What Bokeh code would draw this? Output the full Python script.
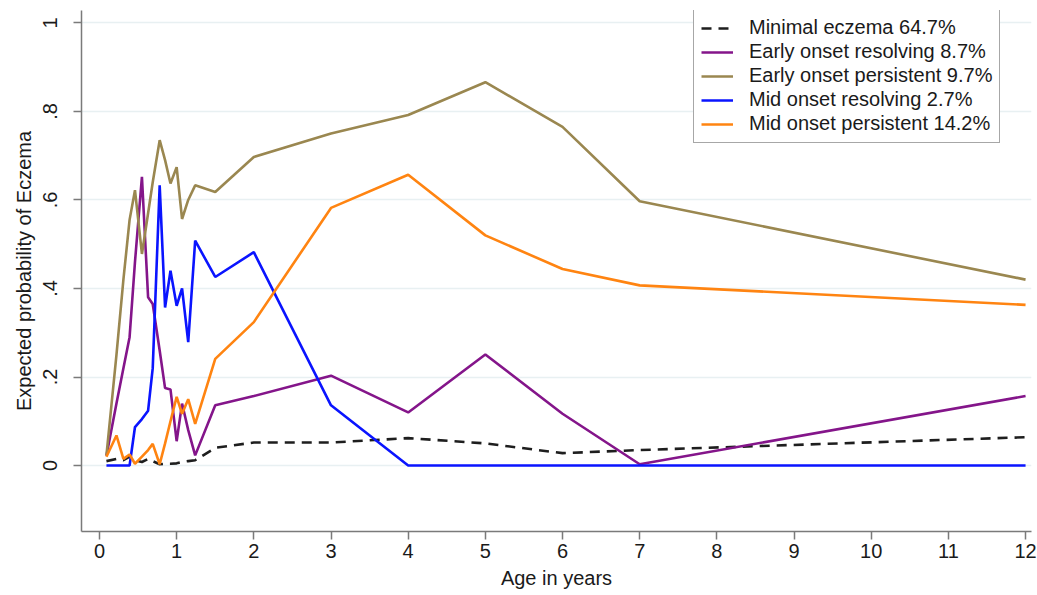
import math
from bokeh.plotting import figure
from bokeh.models import (Range1d, FixedTicker, CustomJSTickFormatter, Legend,
                          LegendItem)
from bokeh.embed import file_html
from bokeh.resources import INLINE

# ---- data ----
ages = [0.09, 0.22, 0.31, 0.39, 0.46, 0.55, 0.63, 0.69, 0.78, 0.85, 0.92, 1.0,
        1.07, 1.15, 1.24, 1.5, 2, 3, 4, 5, 6, 7, 12]

minimal_eczema = [0.010, 0.015, 0.012, 0.020, 0.012, 0.008, 0.015, 0.010, 0.003,
                  0.004, 0.004, 0.005, 0.008, 0.010, 0.012, 0.040, 0.052, 0.052,
                  0.062, 0.050, 0.028, 0.035, 0.064]
early_resolving = [0.022, 0.14, 0.22, 0.29, 0.46, 0.652, 0.38, 0.365, 0.26,
                   0.175, 0.172, 0.055, 0.14, 0.08, 0.023, 0.136, 0.157, 0.203,
                   0.120, 0.251, 0.117, 0.003, 0.157]
early_persistent = [0.023, 0.25, 0.42, 0.555, 0.622, 0.478, 0.57, 0.64, 0.735,
                    0.69, 0.637, 0.674, 0.557, 0.60, 0.633, 0.618, 0.697, 0.750,
                    0.792, 0.866, 0.765, 0.597, 0.420]
mid_resolving = [0.0, 0.0, 0.0, 0.0, 0.087, 0.105, 0.124, 0.22, 0.633, 0.357,
                 0.44, 0.361, 0.40, 0.279, 0.508, 0.426, 0.482, 0.136, 0.0, 0.0,
                 0.0, 0.0, 0.0]
mid_persistent = [0.020, 0.068, 0.015, 0.025, 0.004, 0.020, 0.035, 0.049, 0.003,
                  0.05, 0.10, 0.155, 0.117, 0.150, 0.094, 0.241, 0.324, 0.582,
                  0.657, 0.520, 0.444, 0.407, 0.363]

series_labels = ["Minimal eczema 64.7%", "Early onset resolving 8.7%",
                 "Early onset persistent 9.7%", "Mid onset resolving 2.7%",
                 "Mid onset persistent 14.2%"]
x_ticks = list(range(0, 13))
y_ticks = [0, 0.2, 0.4, 0.6, 0.8, 1.0]

FONT = "Liberation Sans"

p = figure(width=1037, height=595, output_backend="svg", toolbar_location=None,
           x_range=Range1d(-0.233, 12.077), y_range=Range1d(-0.149, 1.028),
           min_border_left=81, min_border_right=6, min_border_top=10,
           min_border_bottom=64)
p.background_fill_color = "white"
p.border_fill_color = "white"
p.outline_line_color = None

# axes
p.xaxis.ticker = FixedTicker(ticks=x_ticks)
p.yaxis.ticker = FixedTicker(ticks=y_ticks)
p.yaxis.formatter = CustomJSTickFormatter(code="""
const s = (Math.round(tick*10)/10).toString();
return s.replace(/^0\\./, '.');
""")
for ax in (p.xaxis, p.yaxis):
    ax.axis_line_color = "#7a7a7a"
    ax.axis_line_width = 1.5
    ax.major_tick_line_color = "#7a7a7a"
    ax.major_tick_line_width = 1.5
    ax.major_tick_in = 0
    ax.major_tick_out = 8
    ax.minor_tick_line_color = None
    ax.major_label_text_font = FONT
    ax.major_label_text_font_size = "20px"
    ax.major_label_text_color = "#1a1a1a"
    ax.axis_label_text_font = FONT
    ax.axis_label_text_font_size = "20px"
    ax.axis_label_text_font_style = "normal"
    ax.axis_label_text_color = "#1a1a1a"
p.yaxis.major_label_orientation = "vertical"
p.yaxis.major_label_standoff = 16
p.yaxis.axis_label = "Expected probability of Eczema"
p.yaxis.axis_label_standoff = 6
p.xaxis.major_label_standoff = 4
p.xaxis.axis_label = "Age in years"
p.xaxis.axis_label_standoff = 6

p.xgrid.grid_line_color = None
p.ygrid.grid_line_color = "#e8f0f2"
p.ygrid.grid_line_width = 1.5

# lines
r0 = p.line(ages, minimal_eczema, line_color="#1e1e1e", line_width=2.6,
            line_dash="10 7")
r1 = p.line(ages, early_resolving, line_color="#84158a", line_width=2.6)
r2 = p.line(ages, early_persistent, line_color="#9a8750", line_width=2.6)
r3 = p.line(ages, mid_resolving, line_color="#0a14ff", line_width=2.6)
r4 = p.line(ages, mid_persistent, line_color="#ff8411", line_width=2.6)

items = [LegendItem(label=lab, renderers=[r])
         for lab, r in zip(series_labels, [r0, r1, r2, r3, r4])]
legend = Legend(items=items, location=(612, 388))
legend.label_text_font = FONT
legend.label_text_font_size = "20px"
legend.label_text_color = "#1a1a1a"
legend.glyph_width = 32
legend.glyph_height = 22
legend.label_height = 22
legend.spacing = 1
legend.label_standoff = 16
legend.padding = 7
legend.margin = 0
legend.border_line_color = "#505050"
legend.border_line_width = 1.5
legend.background_fill_color = "white"
legend.background_fill_alpha = 1.0
p.add_layout(legend)

open("out.html", "w").write(file_html(p, INLINE))
